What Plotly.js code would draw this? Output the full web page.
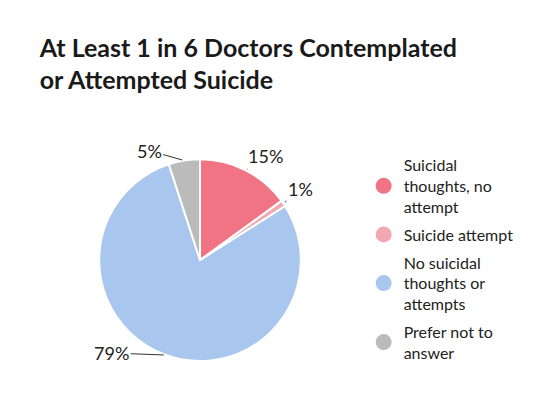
<!DOCTYPE html>
<html><head><meta charset="utf-8">
<script src="https://cdn.plot.ly/plotly-3.0.1.min.js"></script>
<style>body{margin:0;background:#fff}#c{width:551px;height:393px}</style>
</head><body><div id="c"></div>
<script>
const categories = ["Suicidal<br>thoughts, no<br>attempt", "Suicide attempt", "No suicidal<br>thoughts or<br>attempts", "Prefer not to<br>answer"];
const values = [15, 1, 79, 5];
const colors = ["#F07483", "#F2A7B2", "#A9C6EF", "#BBBBBB"];
const titleText = "At Least 1 in 6 Doctors Contemplated<br>or Attempted Suicide";
// label offsets (px) from slice edge, style only
const labelOffsets = [[20, -14], [17, -14], [-54, -2], [-35, -10]];

const W = 551, H = 393;
const dom = {x: [0.18, 0.546], y: [0.081, 0.595]};

const traces = [{
  type: "pie",
  values: values,
  labels: categories,
  sort: false,
  direction: "clockwise",
  rotation: 0,
  marker: {colors: colors, line: {color: "#fff", width: 2}},
  textinfo: "none",
  showlegend: false,
  hoverinfo: "label+value",
  domain: dom
}];
categories.forEach((c, i) => traces.push({
  type: "scatter", mode: "markers", x: [null], y: [null], name: c,
  legendgroup: "g" + i,
  marker: {color: colors[i], size: 16, symbol: "circle"},
  xaxis: "x", yaxis: "y", showlegend: true
}));

// annotations at slice mid-angles, derived from values
const total = values.reduce((a, b) => a + b, 0);
const cx = (dom.x[0] + dom.x[1]) / 2 * W;
const cy = (1 - (dom.y[0] + dom.y[1]) / 2) * H;
const R = Math.min((dom.x[1] - dom.x[0]) * W, (dom.y[1] - dom.y[0]) * H) / 2;
let cum = 0;
const annotations = values.map((v, i) => {
  const mid = (cum + v / 2) / total * 2 * Math.PI;
  cum += v;
  const px = cx + R * Math.sin(mid), py = cy - R * Math.cos(mid);
  return {
    xref: "paper", yref: "paper", x: px / W, y: 1 - py / H,
    text: Math.round(v / total * 100) + "%",
    showarrow: true, arrowhead: 0, arrowwidth: 1, arrowcolor: "#333",
    ax: labelOffsets[i][0], ay: labelOffsets[i][1], standoff: 2,
    font: {family: "Lato", size: 18, color: "#222"}
  };
});

const layout = {
  width: W, height: H,
  margin: {l: 0, r: 0, t: 0, b: 0},
  paper_bgcolor: "#fff", plot_bgcolor: "#fff",
  title: {text: titleText, x: 0.072, xanchor: "left", y: 0.855, yanchor: "top",
    font: {family: "Lato", size: 25, color: "#1a1a1a", weight: 700}},
  xaxis: {visible: false}, yaxis: {visible: false},
  annotations: annotations,
  legend: {x: 0.66, y: 0.623, xanchor: "left", yanchor: "top",
    font: {family: "Lato", size: 16, color: "#222"}, tracegroupgap: 4, itemsizing: "trace"}
};
Plotly.newPlot("c", traces, layout, {displayModeBar: false});
</script></body></html>
